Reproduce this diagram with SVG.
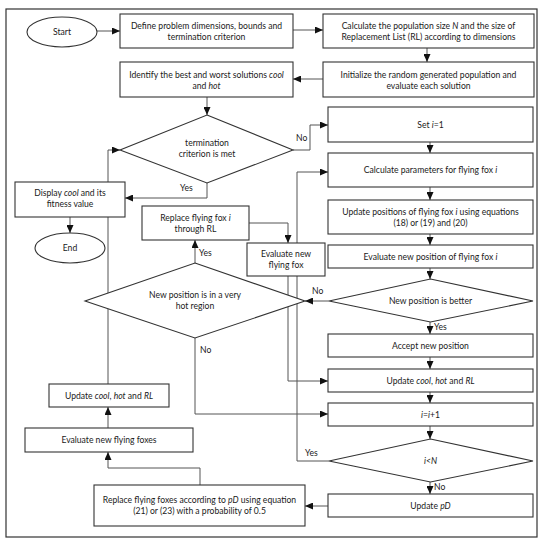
<svg xmlns="http://www.w3.org/2000/svg" width="550" height="545" viewBox="0 0 550 545">
<defs>
<marker id="ah" markerWidth="8" markerHeight="7" refX="8" refY="3.5" orient="auto" markerUnits="userSpaceOnUse">
<path d="M0,0 L8,3.5 L0,7 Z" fill="#111"/>
</marker>
<style>
.b{fill:#fff;stroke:#333;stroke-width:1.1}
.c{fill:none;stroke:#555;stroke-width:1}
.t{font-family:Lato,"Liberation Sans",sans-serif;font-size:8.6px;fill:#1a1a1a;text-anchor:middle}
.l{font-family:Lato,"Liberation Sans",sans-serif;font-size:8.6px;fill:#1a1a1a}
.i{font-style:italic}
</style>
</defs>
<rect x="0" y="0" width="550" height="545" fill="#fff"/>
<rect x="6" y="9" width="531" height="528" fill="none" stroke="#333" stroke-width="1.2"/>

<g id="connectors">
<path class="c" d="M97,31 H120" marker-end="url(#ah)"/>
<path class="c" d="M293,30 H323" marker-end="url(#ah)"/>
<path class="c" d="M427,48 V62" marker-end="url(#ah)"/>
<path class="c" d="M323,79 H293" marker-end="url(#ah)"/>
<path class="c" d="M207,97 V115" marker-end="url(#ah)"/>
<path class="c" d="M293,150 H310 V125 H328" marker-end="url(#ah)"/>
<path class="c" d="M207,183 V198 H125" marker-end="url(#ah)"/>
<path class="c" d="M70,217 V233" marker-end="url(#ah)"/>
<path class="c" d="M430,142 V153" marker-end="url(#ah)"/>
<path class="c" d="M430,187 V200" marker-end="url(#ah)"/>
<path class="c" d="M430,234 V245" marker-end="url(#ah)"/>
<path class="c" d="M430,268 V279" marker-end="url(#ah)"/>
<path class="c" d="M329,301 H305" marker-end="url(#ah)"/>
<path class="c" d="M430,322 V334" marker-end="url(#ah)"/>
<path class="c" d="M430,357 V369" marker-end="url(#ah)"/>
<path class="c" d="M430,392 V403" marker-end="url(#ah)"/>
<path class="c" d="M430,426 V439" marker-end="url(#ah)"/>
<path class="c" d="M430,482 V494" marker-end="url(#ah)"/>
<path class="c" d="M329,461 H297 V172 H328" marker-end="url(#ah)"/>
<path class="c" d="M328,506 H305" marker-end="url(#ah)"/>
<path class="c" d="M200,485 V468 H108 V452" marker-end="url(#ah)"/>
<path class="c" d="M108,428 V407" marker-end="url(#ah)"/>
<path class="c" d="M108,384 V150 H120" marker-end="url(#ah)"/>
<path class="c" d="M195,263 V240" marker-end="url(#ah)"/>
<path class="c" d="M249,223 H288 V243" marker-end="url(#ah)"/>
<path class="c" d="M288,276 V381 H328" marker-end="url(#ah)"/>
<path class="c" d="M195,338 V414 H328" marker-end="url(#ah)"/>
<text class="l" x="296" y="141">No</text>
<text class="l" x="180" y="191">Yes</text>
<text class="l" x="199" y="256">Yes</text>
<text class="l" x="312" y="294">No</text>
<text class="l" x="434" y="330">Yes</text>
<text class="l" x="200" y="353">No</text>
<text class="l" x="305" y="456">Yes</text>
<text class="l" x="434" y="490">No</text>
</g>

<g id="start"><ellipse class="b" cx="62" cy="32" rx="35" ry="15"/><text class="t" x="62" y="35">Start</text></g>
<g id="define"><rect class="b" x="120" y="14" width="173" height="34"/><text class="t" x="206.5" y="29">Define problem dimensions, bounds and</text><text class="t" x="206.5" y="40">termination criterion</text></g>
<g id="calcpop"><rect class="b" x="323" y="14" width="211" height="34"/><text class="t" x="428.5" y="29">Calculate the population size <tspan class="i">N</tspan> and the size of</text><text class="t" x="428.5" y="40">Replacement List (RL) according to dimensions</text></g>
<g id="init"><rect class="b" x="323" y="62" width="211" height="35"/><text class="t" x="428.5" y="77.5">Initialize the random generated population and</text><text class="t" x="428.5" y="88.5">evaluate each solution</text></g>
<g id="identify"><rect class="b" x="120" y="62" width="173" height="35"/><text class="t" x="206.5" y="77.5">Identify the best and worst solutions <tspan class="i">cool</tspan></text><text class="t" x="206.5" y="88.5">and <tspan class="i">hot</tspan></text></g>
<g id="term"><polygon class="b" points="207,115 293,150 207,183 120,150"/><text class="t" x="207" y="146">termination</text><text class="t" x="207" y="157">criterion is met</text></g>
<g id="display"><rect class="b" x="15" y="182" width="110" height="35"/><text class="t" x="70" y="196">Display <tspan class="i">cool</tspan> and its</text><text class="t" x="70" y="207">fitness value</text></g>
<g id="end"><ellipse class="b" cx="70" cy="248" rx="35" ry="15"/><text class="t" x="70" y="251">End</text></g>
<g id="set"><rect class="b" x="328" y="107" width="205" height="35"/><text class="t" x="430.5" y="127.5">Set <tspan class="i">i</tspan>=1</text></g>
<g id="calcparam"><rect class="b" x="328" y="153" width="205" height="34"/><text class="t" x="430.5" y="173">Calculate parameters for flying fox <tspan class="i">i</tspan></text></g>
<g id="updatepos"><rect class="b" x="328" y="200" width="205" height="34"/><text class="t" x="430.5" y="215">Update positions of flying fox <tspan class="i">i</tspan> using equations</text><text class="t" x="430.5" y="226">(18) or (19) and (20)</text></g>
<g id="evalpos"><rect class="b" x="328" y="245" width="205" height="23"/><text class="t" x="430.5" y="259.5">Evaluate new position of flying fox <tspan class="i">i</tspan></text></g>
<g id="better"><polygon class="b" points="430.5,279 533,301 430.5,322 329,301"/><text class="t" x="430.5" y="304">New position is better</text></g>
<g id="replacefox"><rect class="b" x="142" y="206" width="107" height="34"/><text class="t" x="195.5" y="221">Replace flying fox <tspan class="i">i</tspan></text><text class="t" x="195.5" y="232">through RL</text></g>
<g id="evalfox"><rect class="b" x="247" y="243" width="78" height="33"/><text class="t" x="286" y="257">Evaluate new</text><text class="t" x="286" y="268">flying fox</text></g>
<g id="hotregion"><polygon class="b" points="195,263 305,301 195,338 85,301"/><text class="t" x="195" y="298">New position is in a very</text><text class="t" x="195" y="309">hot region</text></g>
<g id="accept"><rect class="b" x="328" y="334" width="205" height="23"/><text class="t" x="430.5" y="348.5">Accept new position</text></g>
<g id="updatecool"><rect class="b" x="328" y="369" width="205" height="23"/><text class="t" x="430.5" y="383.5">Update <tspan class="i">cool</tspan>, <tspan class="i">hot</tspan> and <tspan class="i">RL</tspan></text></g>
<g id="incr"><rect class="b" x="328" y="403" width="205" height="23"/><text class="t" x="430.5" y="417.5"><tspan class="i">i</tspan>=<tspan class="i">i</tspan>+1</text></g>
<g id="iltn"><polygon class="b" points="430.5,439 533,461 430.5,482 329,461"/><text class="t i" x="430.5" y="464">i&lt;N</text></g>
<g id="updatepd"><rect class="b" x="328" y="494" width="205" height="23"/><text class="t" x="430.5" y="508.5">Update <tspan class="i">pD</tspan></text></g>
<g id="replacefoxes"><rect class="b" x="94" y="485" width="211" height="41"/><text class="t" x="199.5" y="503">Replace flying foxes according to <tspan class="i">pD</tspan> using equation</text><text class="t" x="199.5" y="514">(21) or (23) with a probability of 0.5</text></g>
<g id="evalfoxes"><rect class="b" x="25" y="428" width="168" height="24"/><text class="t" x="109" y="443">Evaluate new flying foxes</text></g>
<g id="updatecool2"><rect class="b" x="49" y="384" width="120" height="23"/><text class="t" x="109" y="398.5">Update <tspan class="i">cool</tspan>, <tspan class="i">hot</tspan> and <tspan class="i">RL</tspan></text></g>
</svg>
